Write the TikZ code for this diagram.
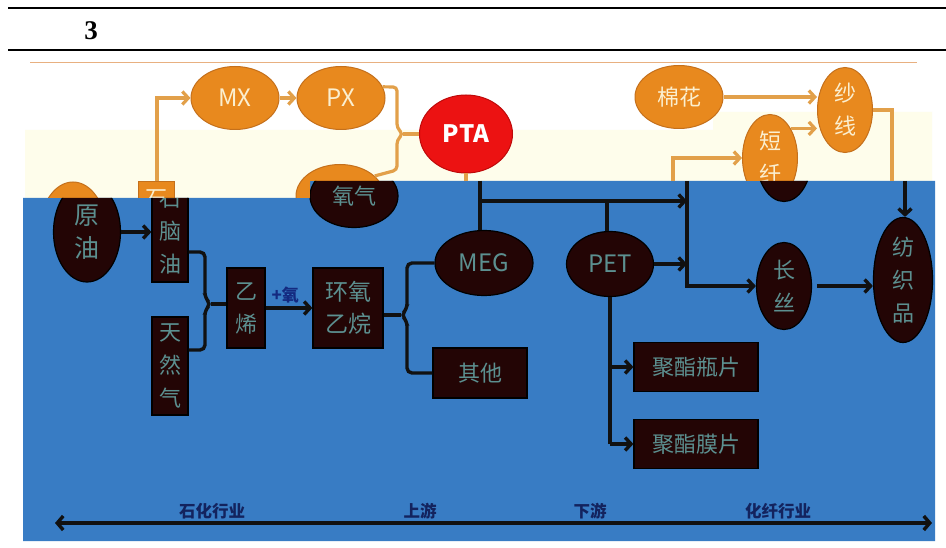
\documentclass[tikz,border=0pt]{standalone}
\usepackage{fontspec}
\setmainfont{Liberation Serif}
\newfontfamily\cjk{Noto Sans CJK SC}
\usetikzlibrary{arrows.meta,shapes.geometric}
\definecolor{bluebg}{RGB}{56,124,196}
\definecolor{lyel}{RGB}{254,253,235}
\definecolor{orfill}{RGB}{232,137,30}
\definecolor{orbd}{RGB}{196,112,28}
\definecolor{ortxt}{RGB}{251,239,208}
\definecolor{orline}{RGB}{226,160,74}
\definecolor{thinor}{RGB}{232,176,128}
\definecolor{dkfill}{RGB}{35,5,5}
\definecolor{dktxt}{RGB}{92,144,144}
\definecolor{dkline}{RGB}{17,17,17}
\definecolor{ptared}{RGB}{236,18,18}
\definecolor{ptabd}{RGB}{190,10,10}
\definecolor{navy}{RGB}{19,35,94}
\definecolor{plusblue}{RGB}{20,42,128}
\def\toppath{(0,0) -- (946,0) -- (946,181) -- (310,181) -- (310,198) -- (0,198) -- cycle}
\def\bluepath{(23,198) -- (310,198) -- (310,181) -- (935,181) -- (935,541) -- (23,541) -- cycle}
\begin{document}
\begin{tikzpicture}[x=1pt,y=-1pt,
  cjkfont/.style={font=\cjk\fontsize{22}{33}\selectfont},
  latfont/.style={font=\cjk\fontsize{24}{28}\selectfont},
  oel/.style={ellipse,draw=orbd,line width=1pt,fill=orfill,text=ortxt,inner sep=0pt,align=center,cjkfont},
  orect/.style={rectangle,draw=orbd,line width=1pt,fill=orfill,text=ortxt,inner sep=0pt,align=center,cjkfont},
  del/.style={ellipse,draw=black,line width=1.2pt,fill=dkfill,text=dktxt,inner sep=0pt,align=center,cjkfont},
  drect/.style={rectangle,draw=black,line width=1.2pt,fill=dkfill,text=dktxt,inner sep=0pt,align=center,cjkfont},
  oline/.style={draw=orline,line width=3.2pt},
  oarr/.style={oline,-{Straight Barb[length=6pt,width=13pt]}},
  dline/.style={draw=dkline,line width=3.4pt},
  darr/.style={dline,-{Straight Barb[length=6pt,width=13pt]}},
  axlabel/.style={text=navy,font=\cjk\bfseries\fontsize{16.5}{18}\selectfont,inner sep=0pt}
]
\useasboundingbox (0,0) rectangle (946,548);
% backgrounds
\fill[white] (0,0) rectangle (946,548);
\fill[lyel] (25,130) -- (713,130) -- (713,112) -- (932,112) -- (932,198) -- (25,198) -- cycle;
\fill[bluebg] \bluepath;
% header
\draw[line width=1.6pt] (8,8) -- (946,8);
\draw[line width=1.6pt] (8,50) -- (946,50);
\node[font=\bfseries\fontsize{27}{27}\selectfont,inner sep=0pt] (num) at (91,31) {3};
\draw[thinor,line width=0.8pt] (30,62) -- (917,62);

% top (orange) nodes
\node[oel,latfont,minimum width=88,minimum height=63] (mx) at (235,98) {MX};
\node[oel,latfont,minimum width=88,minimum height=63] (px) at (341,98) {PX};
\node[ellipse,fill=ptared,draw=ptabd,line width=1pt,text=white,inner sep=0pt,
      font=\cjk\bfseries\fontsize{24}{28}\selectfont,minimum width=93,minimum height=78] (pta) at (466,134) {PTA};
\node[oel,minimum width=88,minimum height=63] (mh) at (679,97) {棉花};
\node[oel,minimum width=55,minimum height=85] (shx) at (845,110) {纱\\线};

% split nodes: orange part (only what shows above the blue band)
\begin{scope}
\clip \toppath;
\node[oel,minimum width=67,minimum height=100] (yyo) at (73,232) {};
\node[orect,minimum width=36,minimum height=100] (napo) at (156,232) {石\\\phantom{脑}\\\phantom{油}};
\node[oel,minimum width=88,minimum height=63] (yqo) at (340,196) {};
\node[oel,minimum width=55,minimum height=87] (dx) at (770,158) {短\\纤};
\end{scope}
% split nodes: dark part
\begin{scope}
\clip \bluepath;
\node[del,font=\cjk\fontsize{25}{33}\selectfont,minimum width=67,minimum height=100] (yy) at (87,232) {原\\油};
\node[drect,minimum width=36,minimum height=100] (nap) at (170,232) {石\\脑\\油};
\node[del,minimum width=88,minimum height=63] (yq) at (354,196) {\raisebox{-6pt}{氧气}};
\node[del,minimum width=55,minimum height=87] (dxd) at (784,158) {};
\end{scope}

% dark nodes
\node[drect,minimum width=36,minimum height=98] (trq) at (170,366) {天\\然\\气};
\node[drect,minimum width=38,minimum height=80] (yixi) at (246,308) {乙\\烯};
\node[drect,font=\cjk\fontsize{23}{32}\selectfont,minimum width=70,minimum height=80] (hy) at (348,308) {环氧\\乙烷};
\node[del,latfont,minimum width=98,minimum height=65] (meg) at (484,263) {MEG};
\node[drect,minimum width=94,minimum height=50] (qita) at (480,373) {其他};
\node[del,latfont,minimum width=87,minimum height=65] (pet) at (610,264) {PET};
\node[drect,minimum width=124,minimum height=49] (pz1) at (696,367) {聚酯瓶片};
\node[drect,minimum width=124,minimum height=49] (pz2) at (696,444) {聚酯膜片};
\node[del,minimum width=55,minimum height=87] (cs) at (784,286) {长\\丝};
\node[del,minimum width=59,minimum height=125] (fzp) at (903,280) {纺\\织\\品};

% orange connectors
\draw[oarr] ([xshift=1pt]napo.north) |- (mx.west);
\draw[oarr] (mx) -- (px);
\coordinate (b3k) at (403,134);
\draw[oline,rounded corners=4pt] (px.15) -- (397,87) -- (397,128) -- (b3k) -- (397,140) -- (397,170) -- (yqo.30);
\draw[oline] (b3k) -- (pta.west |- b3k);
\coordinate (t1) at (466,181);
\draw[oline] (pta.south) -- (t1);
\coordinate (obusT) at (673,181);
\draw[oarr] (obusT) |- (dx.west);
\draw[oarr] (dx.55) -- (dx.55 -| shx.west);
\draw[oarr] (mh.east) -- (mh.east -| shx.west);
\coordinate (s1) at (892,181);
\draw[oline] (shx.east) -| (s1);

% dark connectors
\draw[darr] (yy.east) -- (nap.west |- yy.east);
\coordinate (b1a) at (205,252);
\coordinate (b1k) at (211,304);
\coordinate (b1b) at (205,350);
\draw[dline,rounded corners=5pt] (nap.east |- b1a) -- (b1a) -- (205,298) -- (b1k) -- (205,310) -- (b1b) -- (trq.east |- b1b);
\draw[dline] (b1k) -- (yixi.west |- b1k);
\draw[darr] (yixi) -- node[above=3pt,pos=0.42,text=plusblue,font=\cjk\bfseries\fontsize{17}{18}\selectfont,inner sep=0pt] (oxy) {+氧} (hy);
\coordinate (b2k) at (401,315);
\draw[dline,rounded corners=5pt] (meg.west) -- (407,263) -- (407,309) -- (b2k) -- (407,321) -- (407,373) -- (qita.west);
\draw[dline] (hy.east |- b2k) -- (b2k);
\coordinate (t1d) at (480,181);
\draw[dline] (t1d) -- (t1d |- meg.north);
\coordinate (h1) at (480,201);
\coordinate (bus1) at (687,201);
\draw[darr] (h1) -- (bus1);
\coordinate (h2) at (607,201);
\draw[dline] (h2) -- (h2 |- pet.north);
\coordinate (busT) at (687,181);
\draw[darr] (busT) |- (cs.west);
\draw[darr] (pet.east) -- (pet.east -| busT);
\draw[dline] (pet.south) -- (pet.south |- pz2);
\draw[darr] (pet.south |- pz1) -- (pz1.west);
\draw[darr] (pet.south |- pz2) -- (pz2.west);
\coordinate (s2) at (905,181);
\draw[darr] (s2) -- (s2 |- fzp.north);
\draw[darr] ([xshift=5pt]cs.east) -- (cs.east -| fzp.west);

% bottom axis
\coordinate (axL) at (55,523);
\coordinate (axR) at (932,523);
\draw[dline,{Straight Barb[length=6pt,width=14pt]}-{Straight Barb[length=6pt,width=14pt]}] (axL) -- (axR);
\node[axlabel] (l1) at (212,511) {石化行业};
\node[axlabel] (l2) at (420,511) {上游};
\node[axlabel] (l3) at (590,511) {下游};
\node[axlabel] (l4) at (778,511) {化纤行业};
\end{tikzpicture}
\end{document}
